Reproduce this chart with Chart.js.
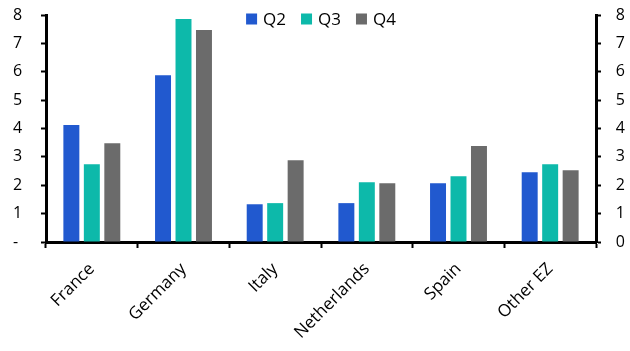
<!DOCTYPE html>
<html>
<head>
<meta charset="utf-8">
<script src="https://cdn.jsdelivr.net/npm/chart.js@4/dist/chart.umd.min.js"></script>
<style>
  html, body { margin: 0; padding: 0; background: #fff; }
  #wrap { width: 630px; height: 351px; }
</style>
</head>
<body>
<div id="wrap"><canvas id="chart" width="630" height="351"></canvas></div>
<script>
// Categories and series
const countries = ['France', 'Germany', 'Italy', 'Netherlands', 'Spain', 'Other EZ'];
const q2 = [4.12, 5.88, 1.33, 1.37, 2.07, 2.46];
const q3 = [2.74, 7.86, 1.37, 2.11, 2.32, 2.74];
const q4 = [3.48, 7.47, 2.88, 2.07, 3.38, 2.53];
const seriesNames = ['Q2', 'Q3', 'Q4'];
const seriesColors = ['#2159CF', '#0DB9AA', '#6B6B6B'];

const FONT = "'Open Sans', 'Noto Sans', sans-serif";

const datasets = [q2, q3, q4].map((vals, i) => ({
    label: seriesNames[i],
    data: vals,
    backgroundColor: seriesColors[i],
    borderWidth: 0,
    categoryPercentage: 0.67,
    barPercentage: 0.78,
    yAxisID: 'y'
}));

// Legend sits inside the plot, centred on top, so draw it ourselves
const topLegend = {
    id: 'topLegend',
    afterDraw(chart) {
        const ctx = chart.ctx;
        const box = 11, gapText = 6, gapItem = 15;
        ctx.save();
        ctx.font = `17px ${FONT}`;
        ctx.textBaseline = 'middle';
        const items = chart.data.datasets.map(d => ({
            label: d.label,
            color: d.backgroundColor,
            w: ctx.measureText(d.label).width
        }));
        const total = items.reduce((s, it) => s + box + gapText + it.w, 0) + gapItem * (items.length - 1);
        let x = (chart.chartArea.left + chart.chartArea.right) / 2 - total / 2;
        const cy = 19;
        items.forEach(it => {
            ctx.fillStyle = it.color;
            ctx.fillRect(x, cy - box / 2, box, box);
            x += box + gapText;
            ctx.fillStyle = '#000';
            ctx.fillText(it.label, x, cy + 1);
            x += it.w + gapItem;
        });
        ctx.restore();
    }
};

new Chart(document.getElementById('chart'), {
    type: 'bar',
    data: { labels: countries, datasets: datasets },
    options: {
        responsive: false,
        animation: false,
        layout: { padding: { top: 15, right: 5, left: 13, bottom: 0 } },
        plugins: {
            tooltip: { enabled: false },
            legend: { display: false }
        },
        scales: {
            x: {
                offset: true,
                afterFit: s => { s.height = 109; },
                grid: {
                    offset: true,
                    drawOnChartArea: false,
                    drawTicks: true,
                    tickLength: 6,
                    tickWidth: 2,
                    tickColor: '#000'
                },
                border: { color: '#000', width: 3 },
                ticks: {
                    font: { family: FONT, size: 17 },
                    color: '#000',
                    minRotation: 45,
                    maxRotation: 45,
                    padding: 11
                }
            },
            y: {
                position: 'left',
                min: 0,
                max: 8,
                afterFit: s => { s.width = 33; },
                grid: {
                    drawOnChartArea: false,
                    tickLength: 5,
                    tickWidth: 2,
                    tickColor: '#000'
                },
                border: { color: '#000', width: 3 },
                ticks: {
                    stepSize: 1,
                    font: { family: FONT, size: 16 },
                    color: '#000',
                    padding: 2,
                    crossAlign: 'far',
                    callback: v => v === 0 ? '-' : v
                }
            },
            y2: {
                position: 'right',
                min: 0,
                max: 8,
                afterFit: s => { s.width = 29; },
                grid: {
                    drawOnChartArea: false,
                    tickLength: 5,
                    tickWidth: 2,
                    tickColor: '#000'
                },
                border: { color: '#000', width: 3 },
                ticks: {
                    stepSize: 1,
                    font: { family: FONT, size: 16 },
                    color: '#000',
                    padding: 2,
                    crossAlign: 'far'
                }
            }
        }
    },
    plugins: [topLegend]
});
</script>
</body>
</html>
